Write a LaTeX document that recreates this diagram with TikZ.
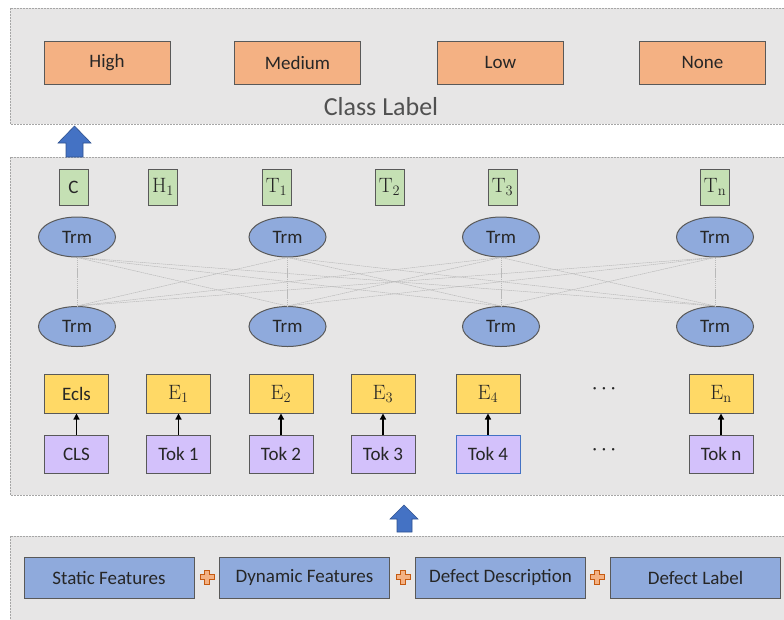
\documentclass[tikz,border=0pt]{standalone}
\usepackage[no-math]{fontspec}
\setmainfont{Carlito}
\usetikzlibrary{shapes.geometric,arrows.meta}
\definecolor{panelfill}{HTML}{E7E6E6}
\definecolor{panelline}{HTML}{A6A6A6}
\definecolor{bordercol}{HTML}{595959}
\definecolor{orangefill}{HTML}{F4B183}
\definecolor{greenfill}{HTML}{C5E0B4}
\definecolor{bluefill}{HTML}{8FAADC}
\definecolor{yellowfill}{HTML}{FFD966}
\definecolor{purplefill}{HTML}{D3C1FB}
\definecolor{arrowblue}{HTML}{4472C4}
\definecolor{arrowedge}{HTML}{2F528F}
\definecolor{plusedge}{HTML}{C55A11}
\definecolor{textcol}{HTML}{262626}
\begin{document}
\begin{tikzpicture}[x=1pt,y=-1pt,
  panel/.style={fill=panelfill,draw=panelline,line width=0.7pt,dash pattern=on 2pt off 1pt},
  basebox/.style={draw=bordercol,line width=1pt,inner sep=0pt,text=textcol,font=\fontsize{19}{22}\selectfont},
  classbox/.style={basebox,fill=orangefill,minimum width=126pt,minimum height=43pt},
  outbox/.style={basebox,fill=greenfill,minimum width=29pt,minimum height=36pt},
  trm/.style={basebox,ellipse,fill=bluefill,minimum width=77pt,minimum height=40pt},
  embbox/.style={basebox,fill=yellowfill,minimum width=64pt,minimum height=39pt},
  tokbox/.style={basebox,fill=purplefill,minimum width=64pt,minimum height=38pt},
  featbox/.style={basebox,fill=bluefill,minimum width=170pt,minimum height=41pt},
  mathlbl/.style={font=\fontsize{20}{24}\selectfont},
  conn/.style={draw=gray!55,line width=0.5pt,dash pattern=on 1.5pt off 0.6pt},
  tokarrow/.style={draw=black,line width=1.3pt,-{Triangle[width=6pt,length=6pt]}},
  bigarrow/.style={fill=arrowblue,draw=arrowedge,line width=0.6pt},
  plussign/.style={fill=orangefill,draw=plusedge,line width=0.5pt},
  dots/.style={text=textcol,font=\fontsize{17}{20}\selectfont}
]
\useasboundingbox (0,0) rectangle (784,619);
% panels
\draw[panel] (10,8) rectangle (800,124);
\draw[panel] (10,157) rectangle (800,495);
\draw[panel] (10,536) rectangle (800,640);

% class labels
\node[classbox] (high) at (107,62.5) {High};
\node[classbox] (medium) at (297.5,62.5) {Medium};
\node[classbox] (low) at (500.5,62.5) {Low};
\node[classbox] (none) at (702.5,62.5) {None};
\node[text=textcol!80,font=\fontsize{26}{30}\selectfont] (classlabel) at (381,107) {Class Label};

% big arrows
\draw[bigarrow] (74.5,126) -- (91,143) -- (83,143) -- (83,157) -- (66,157) -- (66,143) -- (58,143) -- cycle;
\draw[bigarrow] (404,505) -- (418,519) -- (412,519) -- (412,532) -- (397,532) -- (397,519) -- (390,519) -- cycle;

% output tokens
\node[outbox] (oc) at (73.5,187) {C};
\node[outbox,mathlbl] (oh1) at (163,187) {$\mathrm{H}_1$};
\node[outbox,mathlbl] (ot1) at (276.5,187) {$\mathrm{T}_1$};
\node[outbox,mathlbl] (ot2) at (389.5,187) {$\mathrm{T}_2$};
\node[outbox,mathlbl] (ot3) at (502.5,187) {$\mathrm{T}_3$};
\node[outbox,mathlbl] (otn) at (715,187) {$\mathrm{T}_\mathrm{n}$};

% transformer layers
\foreach \i/\x in {1/77,2/287.5,3/501,4/715}{
  \node[trm] (t\i) at (\x,237) {Trm};
  \node[trm] (b\i) at (\x,326.5) {Trm};
}
\foreach \i in {1,...,4}{
  \foreach \j in {1,...,4}{
    \draw[conn] (t\i.south) -- (b\j.north);
  }
}

% embeddings and tokens
\node[embbox] (e0) at (76.5,393.5) {Ecls};
\node[embbox,mathlbl] (e1) at (178.5,393.5) {$\mathrm{E}_1$};
\node[embbox,mathlbl] (e2) at (281,393.5) {$\mathrm{E}_2$};
\node[embbox,mathlbl] (e3) at (383,393.5) {$\mathrm{E}_3$};
\node[embbox,mathlbl] (e4) at (488,393.5) {$\mathrm{E}_4$};
\node[embbox,mathlbl] (en) at (721,393.5) {$\mathrm{E}_\mathrm{n}$};
\node[tokbox] (k0) at (76.5,454) {CLS};
\node[tokbox] (k1) at (178.5,454) {Tok 1};
\node[tokbox] (k2) at (281,454) {Tok 2};
\node[tokbox] (k3) at (383,454) {Tok 3};
\node[tokbox,draw=arrowblue] (k4) at (488,454) {Tok 4};
\node[tokbox] (kn) at (721,454) {Tok n};
\foreach \i in {0,1,2,3,4,n}{
  \draw[tokarrow] (k\i) -- (e\i);
}
\node[dots] (dotse) at (604,391) {·\hspace{5pt}·\hspace{5pt}·};
\node[dots] (dotsk) at (604,452) {·\hspace{5pt}·\hspace{5pt}·};

% input features
\node[featbox] (sf) at (109,577.5) {Static Features};
\node[featbox] (df) at (304.5,577.5) {Dynamic Features};
\node[featbox] (dd) at (500.5,577.5) {Defect Description};
\node[featbox] (dl) at (695.5,577.5) {Defect Label};
\foreach \cx in {207,403,597}{
  \draw[plussign] (\cx-2.5,570) -- (\cx+2.5,570) -- (\cx+2.5,574.5) -- (\cx+7,574.5) -- (\cx+7,579.5) -- (\cx+2.5,579.5) -- (\cx+2.5,584) -- (\cx-2.5,584) -- (\cx-2.5,579.5) -- (\cx-7,579.5) -- (\cx-7,574.5) -- (\cx-2.5,574.5) -- cycle;
}
\end{tikzpicture}
\end{document}
